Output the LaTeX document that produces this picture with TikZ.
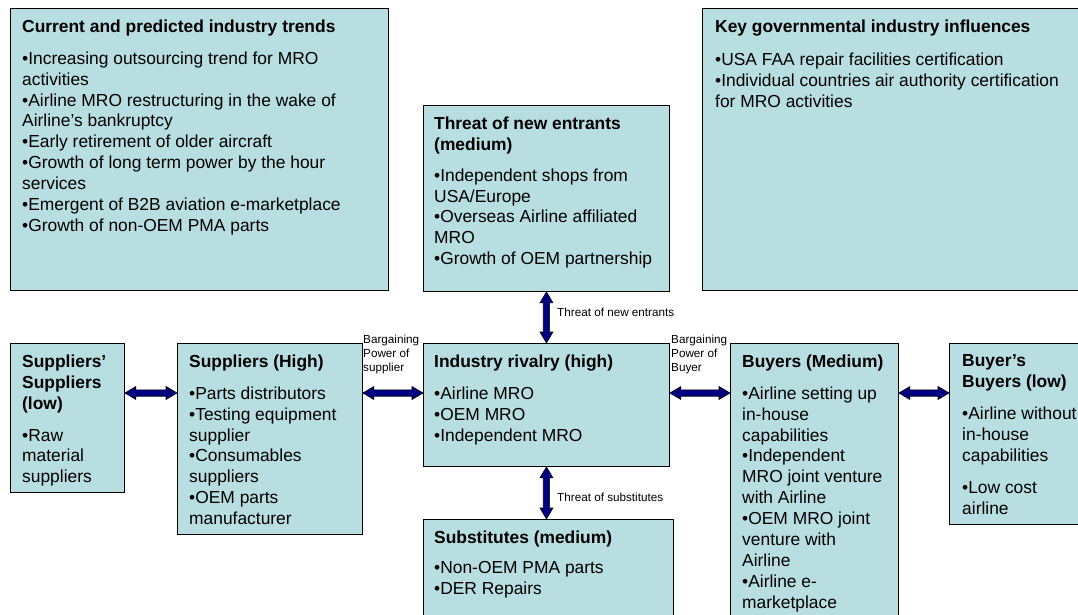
\documentclass[tikz,border=0pt]{standalone}
\usepackage{fontspec}
\setmainfont{Liberation Sans}
\usetikzlibrary{calc}
\definecolor{boxfill}{RGB}{184,222,226}
\definecolor{arrowfill}{RGB}{0,0,128}
\tikzset{
  panel/.style={rectangle, draw=black, line width=0.9pt, fill=boxfill, inner sep=0pt, anchor=north west},
  body/.style={anchor=north west, inner sep=0pt, align=left, font=\fontsize{17.4}{20.9}\selectfont},
  tag/.style={anchor=north west, inner sep=0pt, align=left, font=\fontsize{11.7}{14.2}\selectfont},
  force/.style={draw=black, line width=0.6pt, fill=arrowfill, line join=miter},
}
% horizontal double-headed block arrow between two points on one row
\newcommand\mrohforce[2]{%
  \draw[force] let \p1=(#1), \p2=(#2) in
    (\x1,\y1) -- (\x1+11pt,\y1+6.5pt) -- (\x1+11pt,\y1+3.2pt) -- (\x2-11pt,\y1+3.2pt)
    -- (\x2-11pt,\y1+6.5pt) -- (\x2,\y1) -- (\x2-11pt,\y1-6.5pt) -- (\x2-11pt,\y1-3.2pt)
    -- (\x1+11pt,\y1-3.2pt) -- (\x1+11pt,\y1-6.5pt) -- cycle;}
% vertical double-headed block arrow, first point on top
\newcommand\mrovforce[2]{%
  \draw[force] let \p1=(#1), \p2=(#2) in
    (\x1,\y1) -- (\x1+6.5pt,\y1-11pt) -- (\x1+3.2pt,\y1-11pt) -- (\x1+3.2pt,\y2+11pt)
    -- (\x1+6.5pt,\y2+11pt) -- (\x1,\y2) -- (\x1-6.5pt,\y2+11pt) -- (\x1-3.2pt,\y2+11pt)
    -- (\x1-3.2pt,\y1-11pt) -- (\x1-6.5pt,\y1-11pt) -- cycle;}
\begin{document}
\begin{tikzpicture}[x=1pt,y=-1pt]
\clip (0,0) rectangle (1078,615);
\fill[white] (0,0) rectangle (1078,615);

% panels
\node[panel, minimum width=378pt, minimum height=282pt] (trends) at (10,8) {};
\node[panel, minimum width=246pt, minimum height=186pt] (threat) at (423,105) {};
\node[panel, minimum width=400pt, minimum height=282pt] (gov) at (702,8) {};
\node[panel, minimum width=114pt, minimum height=149pt] (ss) at (10,343) {};
\node[panel, minimum width=185pt, minimum height=191pt] (sup) at (177,343) {};
\node[panel, minimum width=246pt, minimum height=123pt] (rival) at (423,343) {};
\node[panel, minimum width=250pt, minimum height=130pt] (subst) at (423,519) {};
\node[panel, minimum width=168pt, minimum height=300pt] (buy) at (730,343) {};
\node[panel, minimum width=160pt, minimum height=181pt] (bb) at (949,343) {};

% panel texts
\node[body] (trendsT) at (22,19.5) {\textbf{Current and predicted industry trends}\\[11pt]
  •Increasing outsourcing trend for MRO\\ activities\\
  •Airline MRO restructuring in the wake of\\ Airline’s bankruptcy\\
  •Early retirement of older aircraft\\
  •Growth of long term power by the hour\\ services\\
  •Emergent of B2B aviation e-marketplace\\
  •Growth of non-OEM PMA parts};
\node[body] (threatT) at (434,116.5) {\textbf{Threat of new entrants}\\ \textbf{(medium)}\\[10pt]
  •Independent shops from\\ USA/Europe\\
  •Overseas Airline affiliated\\ MRO\\
  •Growth of OEM partnership};
\node[body] (govT) at (715,19.5) {\textbf{Key governmental industry influences}\\[12pt]
  •USA FAA repair facilities certification\\
  •Individual countries air authority certification\\ for MRO activities};
\node[body] (ssT) at (22,354.5) {\textbf{Suppliers’}\\ \textbf{Suppliers}\\ \textbf{(low)}\\[11pt]
  •Raw\\ material\\ suppliers};
\node[body] (supT) at (189,354.5) {\textbf{Suppliers (High)}\\[11pt]
  •Parts distributors\\ •Testing equipment\\ supplier\\ •Consumables\\ suppliers\\
  •OEM parts\\ manufacturer};
\node[body] (rivalT) at (434,354.5) {\textbf{Industry rivalry (high)}\\[11pt]
  •Airline MRO\\ •OEM MRO\\ •Independent MRO};
\node[body] (substT) at (434,530.5) {\textbf{Substitutes (medium)}\\[9pt]
  •Non-OEM PMA parts\\ •DER Repairs};
\node[body] (buyT) at (742,354.5) {\textbf{Buyers (Medium)}\\[11pt]
  •Airline setting up\\ in-house\\ capabilities\\ •Independent\\ MRO joint venture\\
  with Airline\\ •OEM MRO joint\\ venture with\\ Airline\\ •Airline e-\\ marketplace};
\node[body] (bbT) at (962,354.5) {\textbf{Buyer’s}\\ \textbf{Buyers (low)}\\[11pt]
  •Airline without\\ in-house\\ capabilities\\[11pt] •Low cost\\ airline};

% force labels
\node[tag] (lblSup) at (363,334.7) {Bargaining\\ Power of\\ supplier};
\node[tag] (lblBuy) at (671,334.7) {Bargaining\\ Power of\\ Buyer};
\node[tag] (lblNew) at (557,307.7) {Threat of new entrants};
\node[tag] (lblSub) at (557,492.7) {Threat of substitutes};

% connectors
\coordinate (row) at (0,393);
\mrohforce{ss.east |- row}{sup.west |- row}
\mrohforce{sup.east |- row}{rival.west |- row}
\mrohforce{rival.east |- row}{buy.west |- row}
\mrohforce{buy.east |- row}{bb.west |- row}
\mrovforce{threat.south}{rival.north}
\mrovforce{rival.south}{rival.south |- subst.north}
\end{tikzpicture}
\end{document}
